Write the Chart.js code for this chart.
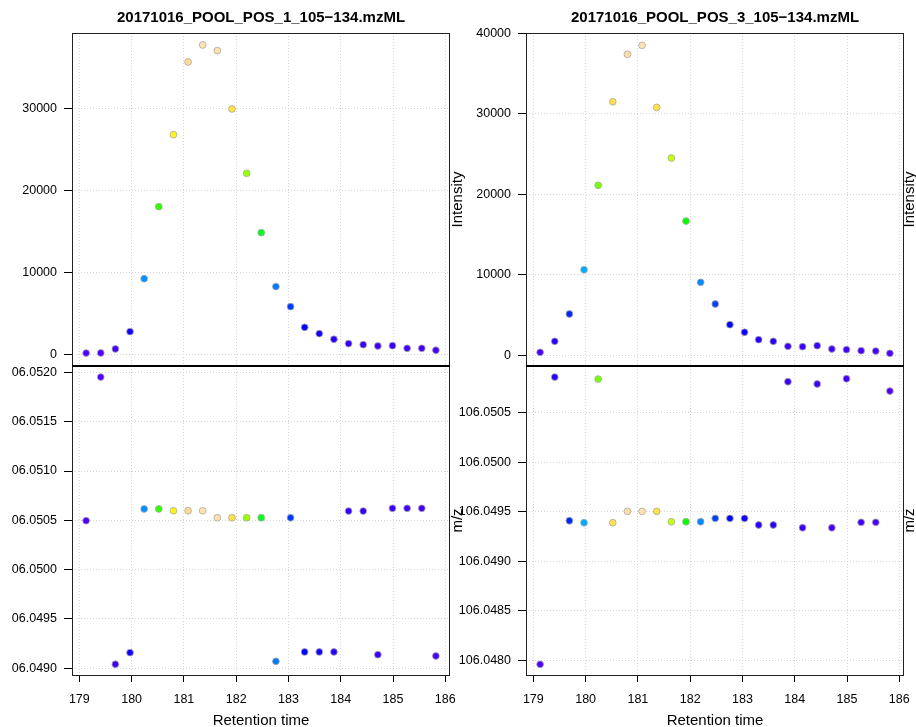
<!DOCTYPE html>
<html>
<head>
<meta charset="utf-8">
<title>XIC 105-134</title>
<script src="https://cdn.jsdelivr.net/npm/chart.js@4.4.1/dist/chart.umd.min.js"></script>
<style>
  html, body { margin: 0; padding: 0; background: #fff; }
  #wrap { position: relative; width: 916px; height: 727px; overflow: hidden; }
  canvas { position: absolute; top: 0; }
  #left { left: 11px; }
  #right { left: 458px; }
</style>
</head>
<body>
<div id="wrap">
  <canvas id="left" width="458" height="727"></canvas>
  <canvas id="right" width="458" height="727"></canvas>
</div>
<script>
// retention time of each scan (same scans in both files)
var rtime = [179.13, 179.41, 179.69, 179.97, 180.24, 180.52, 180.80, 181.08, 181.36, 181.64,
             181.92, 182.20, 182.48, 182.76, 183.04, 183.31, 183.59, 183.87, 184.15, 184.43,
             184.71, 184.99, 185.27, 185.55, 185.82];

// file POS_1
var intensity1 = [150, 160, 650, 2760, 9220, 18000, 26780, 35650, 37720, 37030,
                  29920, 22070, 14830, 8250, 5810, 3290, 2520, 1830, 1300, 1170,
                  1010, 1050, 730, 730, 490];
var mz1 = [106.050496, 106.051954, 106.049039, 106.049157, 106.050615, 106.050615, 106.050597, 106.050597, 106.050597, 106.050526,
           106.050526, 106.050526, 106.050526, 106.049069, 106.050526, 106.049164, 106.049164, 106.049164, 106.050594, 106.050594,
           106.049136, 106.050622, 106.050622, 106.050622, 106.049123];

// file POS_3
var intensity3 = [373, 1740, 5130, 10630, 21120, 31500, 37390, 38510, 30800, 24510,
                  16680, 9070, 6370, 3800, 2860, 1940, 1740, 1120, 1070, 1190,
                  780, 700, 570, 530, 250];
var mz3 = [106.047958, 106.050861, 106.049409, 106.049389, 106.050841, 106.049389, 106.049504, 106.049504, 106.049504, 106.049399,
           106.049399, 106.049399, 106.049433, 106.049433, 106.049433, 106.049366, 106.049366, 106.050814, 106.049338, 106.050791,
           106.049338, 106.050844, 106.049393, 106.049393, 106.050720];

var fileNames = ["20171016_POOL_POS_1_105\u2212134.mzML", "20171016_POOL_POS_3_105\u2212134.mzML"];

// tick labels
var rtTicks = [179, 180, 181, 182, 183, 184, 185, 186];
var intTicks1 = [0, 10000, 20000, 30000];
var intTicks3 = [0, 10000, 20000, 30000, 40000];
var mzTicks1 = [106.0490, 106.0495, 106.0500, 106.0505, 106.0510, 106.0515, 106.0520];
var mzTicks3 = [106.0480, 106.0485, 106.0490, 106.0495, 106.0500, 106.0505];

// axis limits
var rtRange = [178.86, 186.09];
var intRange1 = [-1430, 39180];
var intRange3 = [-1330, 40040];
var mzRange1 = [106.04893, 106.052066];
var mzRange3 = [106.04785, 106.050973];

var FONT = "'Liberation Sans', Arial, Helvetica, sans-serif";

// R's hsv() -> hex
function hsv2hex(h, s, v) {
  var i = Math.floor(h * 6), f = h * 6 - i;
  var p = v * (1 - s), q = v * (1 - f * s), t = v * (1 - (1 - f) * s);
  var r, g, b;
  switch (((i % 6) + 6) % 6) {
    case 0: r = v; g = t; b = p; break;
    case 1: r = q; g = v; b = p; break;
    case 2: r = p; g = v; b = t; break;
    case 3: r = p; g = q; b = v; break;
    case 4: r = t; g = p; b = v; break;
    default: r = v; g = p; b = q;
  }
  function hx(c) { var s2 = Math.round(c * 255).toString(16); return s2.length < 2 ? "0" + s2 : s2; }
  return "#" + hx(r) + hx(g) + hx(b);
}

// same as topo.colors(n) in R
function topoColors(n) {
  var j = Math.floor(n / 3), k = Math.floor(n / 3), i = n - j - k;
  var out = [], a;
  for (a = 0; a < i; a++) out.push(hsv2hex(43 / 60 - (12 / 60) * a / (i - 1), 1, 1));
  for (a = 0; a < j; a++) out.push(hsv2hex(23 / 60 - (12 / 60) * a / (j - 1), 1, 1));
  for (a = 0; a < k; a++) out.push(hsv2hex(10 / 60 - (4 / 60) * a / (k - 1), 1 - 0.7 * a / (k - 1), 1));
  return out;
}

// colour each scan by its intensity, like cut(int, 256)
function intensityColors(ints) {
  var pal = topoColors(256);
  var lo = Math.min.apply(null, ints), hi = Math.max.apply(null, ints);
  return ints.map(function (v) {
    var bin = Math.ceil((v - lo) / (hi - lo) * 256) - 1;
    return pal[Math.max(0, Math.min(255, bin))];
  });
}

function toPoints(xs, ys) {
  return xs.map(function (x, i) { return { x: x, y: ys[i] }; });
}

// box, divider and all the text labels
var framePlugin = {
  id: "frame",
  afterDraw: function (chart, args, opts) {
    var ctx = chart.ctx, a = chart.chartArea;
    var yInt = chart.scales.yInt, yMz = chart.scales.yMz;
    var cx = (a.left + a.right) / 2;
    ctx.save();
    ctx.strokeStyle = "#222";
    ctx.lineWidth = 1;
    ctx.strokeRect(a.left + 0.5, a.top + 0.5, a.right - a.left - 1, a.bottom - a.top);
    ctx.lineWidth = 2;
    ctx.strokeStyle = "#000";
    ctx.beginPath();
    ctx.moveTo(a.left, yInt.bottom);
    ctx.lineTo(a.right, yInt.bottom);
    ctx.stroke();

    ctx.fillStyle = "#000";
    ctx.textAlign = "center";
    ctx.textBaseline = "middle";
    ctx.font = "bold 15px " + FONT;
    ctx.fillText(opts.title, cx, 18);
    ctx.font = "15px " + FONT;
    ctx.fillText("Retention time", cx, 721);

    // axis names on the right side of each panel
    var labs = [["Intensity", (yInt.top + yInt.bottom) / 2], ["m/z", (yMz.top + yMz.bottom) / 2]];
    labs.forEach(function (l) {
      ctx.save();
      ctx.translate(a.right + opts.labelGap, l[1]);
      ctx.rotate(-Math.PI / 2);
      ctx.fillText(l[0], 0, 0);
      ctx.restore();
    });
    ctx.restore();
  }
};

function yAxis(range, ticks, weight, width, fmt) {
  return {
    type: "linear",
    position: "left",
    stack: "panels",
    stackWeight: weight,
    min: range[0],
    max: range[1],
    afterBuildTicks: function (scale) {
      scale.ticks = ticks.map(function (v) { return { value: v }; });
    },
    afterFit: function (scale) {
      scale.width = width;
      scale.paddingTop = 0;
      scale.paddingBottom = 0;
    },
    border: { display: false, dash: [1, 2] },
    grid: { color: "#d6d6d6", lineWidth: 1, tickColor: "#000", tickLength: 8, tickWidth: 1 },
    ticks: {
      color: "#000",
      padding: 7,
      font: { family: FONT, size: 12.5 },
      callback: fmt
    }
  };
}

function makeChart(id, title, ints, mzs, intRange, mzRange, intTicks, mzTicks, axisWidth, padRight, labelGap) {
  var cols = intensityColors(ints);
  var pointStyle = {
    backgroundColor: cols,
    borderColor: "#a8a8a8",
    borderWidth: 0.8,
    pointRadius: 3.4,
    showLine: false
  };
  return new Chart(document.getElementById(id), {
    type: "scatter",
    data: {
      datasets: [
        Object.assign({ label: "Intensity", data: toPoints(rtime, ints), yAxisID: "yInt" }, pointStyle),
        Object.assign({ label: "m/z", data: toPoints(rtime, mzs), yAxisID: "yMz" }, pointStyle)
      ]
    },
    options: {
      responsive: false,
      animation: false,
      devicePixelRatio: 1,
      layout: { padding: { left: 0, right: padRight, top: 33, bottom: 0 } },
      plugins: {
        legend: { display: false },
        tooltip: { enabled: false },
        frame: { title: title, labelGap: labelGap }
      },
      scales: {
        x: {
          type: "linear",
          position: "bottom",
          min: rtRange[0],
          max: rtRange[1],
          afterBuildTicks: function (scale) {
            scale.ticks = rtTicks.map(function (v) { return { value: v }; });
          },
          afterFit: function (scale) {
            scale.height = 52;
            scale.paddingLeft = 0;
            scale.paddingRight = 0;
          },
          border: { display: false, dash: [1, 2] },
          grid: { color: "#d6d6d6", lineWidth: 1, tickColor: "#000", tickLength: 7, tickWidth: 1 },
          ticks: {
            color: "#000",
            padding: 10,
            autoSkip: false,
            maxRotation: 0,
            font: { family: FONT, size: 12.5 },
            callback: function (v) { return String(v); }
          }
        },
        yMz: yAxis(mzRange, mzTicks, 309, axisWidth, function (v) { return v.toFixed(4); }),
        yInt: yAxis(intRange, intTicks, 333, axisWidth, function (v) { return String(v); })
      }
    },
    plugins: [framePlugin]
  });
}

makeChart("left", fileNames[0], intensity1, mz1, intRange1, mzRange1, intTicks1, mzTicks1, 61, 19, 8);
makeChart("right", fileNames[1], intensity3, mz3, intRange3, mzRange3, intTicks3, mzTicks3, 68, 12, 5.5);
</script>
</body>
</html>
